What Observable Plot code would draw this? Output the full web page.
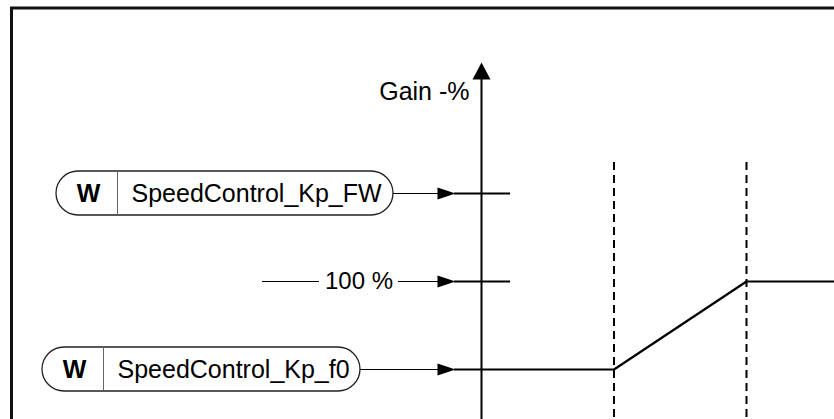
<!DOCTYPE html>
<html>
<head>
<meta charset="utf-8">
<script src="https://cdn.jsdelivr.net/npm/d3@7"></script>
<script src="https://cdn.jsdelivr.net/npm/@observablehq/plot@0.6"></script>
<style>
  html, body { margin: 0; padding: 0; background: white; }
  #chart svg { display: block; }
</style>
</head>
<body>
<div id="chart"></div>
<script>
// ---- data ----
const inputLabels = ["SpeedControl_Kp_FW", "SpeedControl_Kp_f0"];
const inputTags = ["W", "W"];
const inputGain = [150, 50];          // gain level fed by each parameter (%)
const refLabel = "100 %";
const refGain = 100;
const axisTitle = "Gain -%";
const curveFreq = [0, 1, 2, 3];       // 0 = axis, 1 = f0 break, 2 = field weakening point
const curveGain = [50, 50, 100, 100];
const breakFreq = [1, 2];

// ---- layout (pixels) ----
const sx = d3.scaleLinear([0, 2], [481, 746]);
const sy = d3.scaleLinear([50, 150], [369, 193]);
const px = v => sx.invert(v);
const py = v => sy.invert(v);
const pillLeft = [56, 42];
const pillRight = [393, 360];
const pillHalf = 22;                  // px
const arrowBase = 438, arrowTip = 455, stubEnd = 510;
const FS = 24;

const inputs = inputLabels.map((label, i) => ({
  label, tag: inputTags[i], gain: inputGain[i], left: pillLeft[i], right: pillRight[i]
}));
const halfY = pillHalf / (sy(0) - sy(1));

const headRight = { draw(c) { c.moveTo(0, 0); c.lineTo(-18, -6); c.lineTo(-18, 6); c.closePath(); } };
const headUp = { draw(c) { c.moveTo(0, 0); c.lineTo(-9, 17); c.lineTo(9, 17); c.closePath(); } };

const levels = [...inputGain, refGain].map(g => ({ gain: g }));

const chart = Plot.plot({
  width: 834,
  height: 419,
  margin: 0,
  x: { type: "linear", domain: [0, 2], range: [481, 746], axis: null },
  y: { type: "linear", domain: [50, 150], range: [369, 193], axis: null },
  style: { fontFamily: "'Liberation Sans', Arial, sans-serif", background: "white", overflow: "hidden", color: "black" },
  marks: [
    // outer border (top and left visible)
    Plot.frame({ stroke: "#111", strokeWidth: 3, insetLeft: 11, insetTop: 7.5, insetRight: -10, insetBottom: -10 }),
    // break dashed lines
    Plot.ruleX(breakFreq, { x: d => d, y1: py(162), y2: py(430), stroke: "black", strokeWidth: 2, strokeDasharray: "8,5" }),
    // vertical gain axis
    Plot.ruleX([{ f: 0 }], { x: "f", y1: py(76), y2: py(430), stroke: "black", strokeWidth: 2 }),
    Plot.dot([{ f: 0 }], { x: "f", y: () => py(62), symbol: headUp, fill: "black", stroke: "none" }),
    Plot.text([axisTitle], { x: () => px(469), y: () => py(91), text: d => d, textAnchor: "end", fontSize: FS + 1, fill: "black" }),
    // input pills
    Plot.rect(inputs, {
      x1: d => px(d.left), x2: d => px(d.right),
      y1: d => d.gain - halfY, y2: d => d.gain + halfY,
      rx: pillHalf, fill: "white", stroke: "#222", strokeWidth: 1.3
    }),
    Plot.ruleX(inputs, { x: d => px(d.left + 61), y1: d => d.gain - halfY, y2: d => d.gain + halfY, stroke: "#666", strokeWidth: 1 }),
    Plot.text(inputs, { x: d => px(d.left + 32), y: "gain", text: "tag", fontWeight: "bold", fontSize: FS + 1, fill: "black" }),
    Plot.text(inputs, { x: d => px(d.left + 75), y: "gain", text: "label", textAnchor: "start", fontSize: FS + 1, fill: "black" }),
    // thin connectors
    Plot.ruleY(inputs, { y: "gain", x1: d => px(d.right), x2: px(arrowBase + 2), stroke: "black", strokeWidth: 1.2 }),
    Plot.ruleY([{ gain: refGain }], { y: "gain", x1: px(262), x2: px(319), stroke: "black", strokeWidth: 1.2 }),
    Plot.ruleY([{ gain: refGain }], { y: "gain", x1: px(398), x2: px(arrowBase + 2), stroke: "black", strokeWidth: 1.2 }),
    Plot.text([{ gain: refGain, label: refLabel }], { x: () => px(358.5), y: "gain", text: "label", fontSize: FS, fill: "black" }),
    // arrowheads into axis
    Plot.dot(levels, { x: () => px(arrowTip), y: "gain", symbol: headRight, fill: "black", stroke: "none" }),
    // thick stubs at the axis
    Plot.ruleY(levels.filter(d => d.gain !== curveGain[0]), { y: "gain", x1: px(arrowTip - 1), x2: px(stubEnd), stroke: "black", strokeWidth: 2 }),
    Plot.ruleY([{ gain: curveGain[0] }], { y: "gain", x1: px(arrowTip - 1), x2: 0, stroke: "black", strokeWidth: 2 }),
    // gain curve
    Plot.line(curveFreq.map((f, i) => ({ f, g: curveGain[i] })), { x: "f", y: "g", stroke: "black", strokeWidth: 2.2, clip: true })
  ]
});
document.getElementById("chart").append(chart);
</script>
</body>
</html>
